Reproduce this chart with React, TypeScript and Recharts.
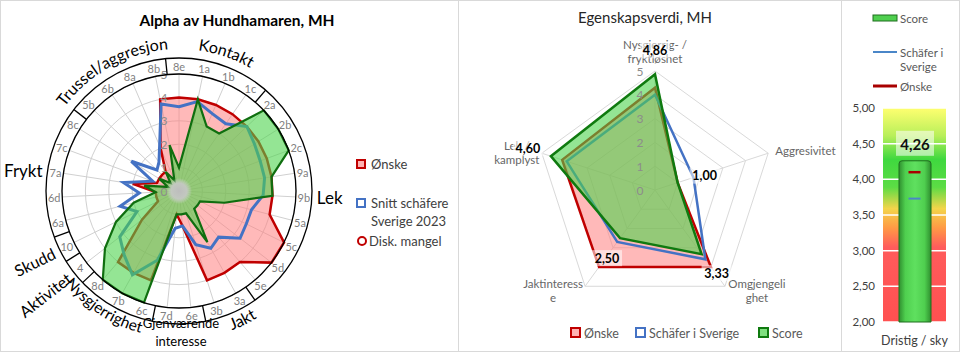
import React from 'react';
import {
  RadarChart, Radar, PolarGrid, PolarAngleAxis, PolarRadiusAxis,
  ComposedChart, Bar, Scatter, XAxis, YAxis, CartesianGrid, LabelList,
} from 'recharts';

// ---- left radar: MH items ----
const spokes = ['8e', '1a', '1b', '1c', '2a', '2b', '2c', '9a', '9b', '5a', '5c', '5d', '5e', '3a', '3b', '6e', '7d', '6c', '7b', '8d', '4', '10', '6a', '6d', '7a', '7c', '8c', '5b', '6b', '8a', '8b'];
const onskeByItem = [4, 4, 4, 4, 4, 4, 4, 4, 4, 4, 5, 5, 4, 4, 4, 1.5, 1, 4, 4, 4, 2, 1, 1, 1, 2, 1, 1, 1, 1, 2, 4];
const snittByItem = [3.6, 3.9, 3.6, 3.5, 4, 3.8, 3.7, 3.7, 3.6, 3.2, 3.2, 3.3, 2.6, 2.8, 2.4, 1.5, 1.6, 3.1, 4.1, 3.6, 3.2, 2, 2.6, 1.7, 2.4, 1.2, 2.4, 1.3, 1.5, 2.1, 3.8];
const scoreByItem = [1, 4, 3, 3, 5, 5, 5, 4, 4, 2, 1, 1, 1, 2.5, 1, 1, 1, 5, 5, 5, 4, 3, 2, 1, 1.5, 0.5, 1, 0.5, 1, 0.5, 2];
const groupLabels = ['Kontakt', 'Lek', 'Jakt', 'Gjenværende interesse', 'Nysgjerrighet', 'Aktivitet', 'Skudd', 'Frykt', 'Trussel/aggresjon'];
const groupSizes = [4, 9, 2, 2, 3, 1, 1, 5, 4];
const radiusTicks = [0, 1, 2, 3, 4, 5];

// ---- middle radar: egenskapsverdi ----
const traits = ['Nysgjerrig- / fryktløshet', 'Aggresivitet', 'Omgjengelighet', 'Jaktinteresse', 'Lek / kamplyst'];
const traitTickLines = [['Nysgjerrig- /', 'fryktløshet'], ['Aggresivitet'], ['Omgjengeli', 'ghet'], ['Jaktinteress', 'e'], ['Lek /', 'kamplyst']];
const traitOnske = [4.3, 1, 4, 4, 4.1];
const traitSchafer = [4, 1.7, 3.6, 2.7, 3.9];
const traitScore = [4.86, 1, 3.33, 2.5, 4.6];

// ---- right gauge ----
const gaugeCategory = ['Dristig / sky'];
const gaugeScore = [4.26];
const gaugeSchafer = [3.73];
const gaugeOnske = [4.1];
const gaugeTicks = [2, 2.5, 3, 3.5, 4, 4.5, 5];

const FONT = 'Lato, "Open Sans", "DejaVu Sans", sans-serif';
const RAD = Math.PI / 180;
const at = (cx: number, cy: number, r: number, cw: number) => ({ x: cx + r * Math.sin(cw * RAD), y: cy - r * Math.cos(cw * RAD) });
const fmt = (v: number) => v.toFixed(2).replace('.', ',');

const L = { cx: 179, cy: 191, r: 117, band: 133 };
const M = { left: 459, cx: 196, cy: 190, r: 119 };
const MX = M.left + M.cx;
const STEP = 360 / spokes.length;

const leftData = spokes.map((item, i) => ({ item, onske: onskeByItem[i], snitt: snittByItem[i], score: scoreByItem[i] }));
const midData = traits.map((t, i) => ({ trait: t, onske: traitOnske[i], schafer: traitSchafer[i], score: traitScore[i] }));
const gaugeData = gaugeCategory.map((name, i) => ({ name, score: gaugeScore[i], schafer: gaugeSchafer[i], onske: gaugeOnske[i] }));

let acc = 0;
const groups = groupLabels.map((name, g) => {
  const first = acc;
  acc += groupSizes[g];
  return { name, first, mid: ((first + acc - 1) / 2) * STEP };
});

const groupLabelStyle: any[] = [
  { mode: 'top', r: 142, shift: 1.5 },
  { mode: 'right', r: 138 },
  { mode: 'bottom', r: 149, shift: -3 },
  { mode: 'under', r: 132 },
  { mode: 'bottom', r: 147, shift: 4, size: 15.5 },
  { mode: 'radial', r: 139 },
  { mode: 'radial', r: 139 },
  { mode: 'left', r: 138 },
  { mode: 'top', r: 142 },
];

const scoreLabelOffset = [[0, -24], [27, -7], [15, 19], [-13, 20], [-23, -8]];
const traitTickOffset: any[] = [
  { dx: 0, dy: -27, anchor: 'middle' },
  { dx: 7, dy: -3, anchor: 'start' },
  { dx: 32, dy: -3, anchor: 'middle' },
  { dx: -32, dy: -3, anchor: 'middle' },
  { dx: -25, dy: -8, anchor: 'middle' },
];

const arcPath = (cx: number, cy: number, r: number, mid: number, bottom: boolean) => {
  const p1 = at(cx, cy, r, bottom ? mid + 70 : mid - 70);
  const p2 = at(cx, cy, r, bottom ? mid - 70 : mid + 70);
  return `M ${p1.x} ${p1.y} A ${r} ${r} 0 0 ${bottom ? 0 : 1} ${p2.x} ${p2.y}`;
};

const LeftItemTick = (props: any) => {
  const i = spokes.indexOf(props.payload.value);
  const p = at(L.cx, L.cy, 125, i * STEP);
  return <text x={p.x} y={p.y} textAnchor="middle" dominantBaseline="central" fontSize={11} fill="#7f7f7f" fontFamily={FONT}>{props.payload.value}</text>;
};

const RadiusTick = (props: any) => (
  <text x={props.x - 15} y={props.y} textAnchor="middle" dominantBaseline="central" fontSize={12} fill="#8c8c8c" fontFamily={FONT}>{props.payload.value}</text>
);

const TraitTick = (props: any) => {
  const i = traits.indexOf(props.payload.value);
  const v = at(MX, M.cy, M.r, i * 72);
  const o = traitTickOffset[i];
  return (
    <text textAnchor={o.anchor} fontSize={11.5} fill="#666" fontFamily={FONT} dominantBaseline="central">
      {traitTickLines[i].map((line, k) => (
        <tspan key={k} x={v.x - M.left + o.dx} y={v.y + o.dy + k * 14}>{line}</tspan>
      ))}
    </text>
  );
};

const GaugeTick = (props: any) => (
  <text x={props.x} y={props.y + 10} textAnchor="middle" dominantBaseline="central" fontSize={12.5} fill="#404040" fontFamily={FONT}>{props.payload.value}</text>
);

const Dash = (color: string, w: number) => (props: any) => (
  <line x1={props.cx - 6} x2={props.cx + 6} y1={props.cy} y2={props.cy} stroke={color} strokeWidth={w} />
);

const GaugeLabel = (props: any) => {
  const { x, y, width, value } = props;
  const c = x + width / 2;
  return (
    <g>
      <rect x={c - 19} y={y - 30} width={38} height={25} fill="#ffffff" fillOpacity={0.55} />
      <text x={c} y={y - 17} textAnchor="middle" dominantBaseline="central" fontWeight="bold" fontSize={15} fill="#111" fontFamily={FONT}>{fmt(value)}</text>
    </g>
  );
};

export default function App() {
  return (
    <div style={{ position: 'absolute', left: 0, top: 0, width: 960, height: 363, background: '#fff', fontFamily: FONT }}>
      {/* left radar */}
      <div style={{ position: 'absolute', left: 0, top: 0 }}>
        <RadarChart width={459} height={352} data={leftData} cx={L.cx} cy={L.cy} outerRadius={L.r} margin={{ top: 0, right: 0, bottom: 0, left: 0 }}>
          <PolarGrid gridType="circle" stroke="#d0d0d0" />
          <PolarAngleAxis dataKey="item" tick={<LeftItemTick />} tickLine={false} axisLine={false} />
          <PolarRadiusAxis angle={90} domain={[0, 5]} ticks={radiusTicks as any} tick={<RadiusTick />} axisLine={false} tickLine={false} />
          <Radar dataKey="onske" stroke="#c00000" strokeWidth={2.5} fill="#ff7f7f" fillOpacity={0.55} dot={false} isAnimationActive={false} />
          <Radar dataKey="snitt" stroke="#4472c4" strokeWidth={3} fill="none" fillOpacity={0} dot={false} isAnimationActive={false} />
          <Radar dataKey="score" stroke="#0f6e0f" strokeWidth={2.2} fill="#4cd44c" fillOpacity={0.6} dot={false} isAnimationActive={false} />
        </RadarChart>
      </div>

      {/* middle radar */}
      <div style={{ position: 'absolute', left: M.left, top: 0 }}>
        <RadarChart width={382} height={352} data={midData} cx={M.cx} cy={M.cy} outerRadius={M.r} margin={{ top: 0, right: 0, bottom: 0, left: 0 }}>
          <PolarGrid gridType="polygon" stroke="#d9d9d9" />
          <PolarAngleAxis dataKey="trait" tick={<TraitTick />} tickLine={false} axisLine={false} />
          <PolarRadiusAxis angle={90} domain={[0, 5]} ticks={radiusTicks as any} tick={<RadiusTick />} axisLine={false} tickLine={false} />
          <Radar dataKey="onske" stroke="#c00000" strokeWidth={2.5} fill="#ff7f7f" fillOpacity={0.55} dot={false} isAnimationActive={false} />
          <Radar dataKey="schafer" stroke="#4472c4" strokeWidth={2.5} fill="none" fillOpacity={0} dot={false} isAnimationActive={false} />
          <Radar dataKey="score" stroke="#0f7a0f" strokeWidth={2.5} fill="#4cd44c" fillOpacity={0.6} dot={false} isAnimationActive={false} />
        </RadarChart>
      </div>

      {/* right gauge */}
      <div style={{ position: 'absolute', left: 841, top: 0 }}>
        <ComposedChart width={119} height={352} data={gaugeData} margin={{ top: 108, right: 14, bottom: 6, left: 0 }}>
          <defs>
            <linearGradient id="gaugeBg" x1="0" y1="0" x2="0" y2="1">
              <stop offset="0" stopColor="#ffff70" />
              <stop offset="0.13" stopColor="#b8ef5a" />
              <stop offset="0.24" stopColor="#3fd83f" />
              <stop offset="0.37" stopColor="#5cdc45" />
              <stop offset="0.47" stopColor="#f3d54a" />
              <stop offset="0.56" stopColor="#ff9a45" />
              <stop offset="0.65" stopColor="#ff5c5c" />
              <stop offset="1" stopColor="#ff5050" />
            </linearGradient>
            <linearGradient id="gaugeBar" x1="0" y1="0" x2="1" y2="0">
              <stop offset="0" stopColor="#2f8f2f" />
              <stop offset="0.2" stopColor="#4fcf4f" />
              <stop offset="0.5" stopColor="#5fe05f" />
              <stop offset="0.8" stopColor="#4fcf4f" />
              <stop offset="1" stopColor="#2f8f2f" />
            </linearGradient>
          </defs>
          <CartesianGrid vertical={false} stroke="#ffffff" strokeWidth={1.5} fill="url(#gaugeBg)" fillOpacity={1} />
          <XAxis dataKey="name" type="category" axisLine={false} tickLine={false} height={24} tick={<GaugeTick />} interval={0} />
          <YAxis domain={[2, 5]} ticks={gaugeTicks} width={42} axisLine={false} tickLine={false} tickFormatter={fmt} tick={{ fontSize: 11.5, fill: '#404040', fontFamily: FONT }} />
          <Bar dataKey="score" barSize={32} fill="url(#gaugeBar)" stroke="#1f6e1f" strokeWidth={1} radius={[3, 3, 0, 0]} isAnimationActive={false}>
            <LabelList dataKey="score" content={<GaugeLabel />} />
          </Bar>
          <Scatter dataKey="onske" shape={Dash('#a80000', 2.5)} isAnimationActive={false} />
          <Scatter dataKey="schafer" shape={Dash('#4a86c8', 2)} isAnimationActive={false} />
        </ComposedChart>
      </div>

      {/* decorations, titles and legends */}
      <svg width={960} height={363} style={{ position: 'absolute', left: 0, top: 0, pointerEvents: 'none' }} fontFamily={FONT}>
        <defs>
          <radialGradient id="hub">
            <stop offset="0" stopColor="#bdbdbd" />
            <stop offset="0.6" stopColor="#c8c8c8" stopOpacity={0.9} />
            <stop offset="1" stopColor="#d8d8d8" stopOpacity={0} />
          </radialGradient>
          {groups.map((g, i) => {
            const s = groupLabelStyle[i];
            if (s.mode !== 'top' && s.mode !== 'bottom') return null;
            return <path key={i} id={`garc${i}`} d={arcPath(L.cx, L.cy, s.r, g.mid + (s.shift || 0), s.mode === 'bottom')} fill="none" />;
          })}
        </defs>

        <rect x={0.5} y={0.5} width={959} height={351} fill="none" stroke="#d9d9d9" />
        <line x1={458.5} x2={458.5} y1={0} y2={352} stroke="#d9d9d9" />
        <line x1={841.5} x2={841.5} y1={0} y2={352} stroke="#d9d9d9" />

        {/* left title */}
        <text x={237} y={20} textAnchor="middle" dominantBaseline="central" fontWeight="bold" fontSize={15.5} fill="#000">Alpha av Hundhamaren, MH</text>

        {/* ring around left radar */}
        <circle cx={L.cx} cy={L.cy} r={L.r} fill="none" stroke="#000" strokeWidth={1.3} />
        <circle cx={L.cx} cy={L.cy} r={L.band} fill="none" stroke="#000" strokeWidth={1.3} />
        {groups.map((g, i) => {
          const a = (g.first - 0.5) * STEP;
          const p1 = at(L.cx, L.cy, L.r, a);
          const p2 = at(L.cx, L.cy, L.band, a);
          return <line key={i} x1={p1.x} y1={p1.y} x2={p2.x} y2={p2.y} stroke="#000" strokeWidth={1.3} />;
        })}
        <circle cx={L.cx} cy={L.cy} r={13} fill="url(#hub)" />

        {groups.map((g, i) => {
          const s = groupLabelStyle[i];
          if (s.mode === 'top' || s.mode === 'bottom') {
            return (
              <text key={i} fontSize={s.size || 16} fill="#000">
                <textPath href={`#garc${i}`} startOffset="50%" textAnchor="middle">{g.name}</textPath>
              </text>
            );
          }
          const p = at(L.cx, L.cy, s.r, g.mid);
          if (s.mode === 'radial') {
            const rot = Math.atan2(Math.cos(g.mid * RAD), -Math.sin(g.mid * RAD)) / RAD;
            return <text key={i} x={p.x} y={p.y} textAnchor="end" dominantBaseline="central" fontSize={16} fill="#000" transform={`rotate(${rot} ${p.x} ${p.y})`}>{g.name}</text>;
          }
          if (s.mode === 'under') {
            return (
              <text key={i} textAnchor="middle" dominantBaseline="central" fontSize={13} fill="#000">
                {g.name.split(' ').map((w, k) => <tspan key={k} x={p.x + 2} y={L.cy + s.r + k * 18}>{w}</tspan>)}
              </text>
            );
          }
          return <text key={i} x={p.x} y={p.y} textAnchor={s.mode === 'left' ? 'end' : 'start'} dominantBaseline="central" fontSize={17} fill="#000">{g.name}</text>;
        })}

        {/* left legend */}
        <rect x={357} y={160} width={8} height={8} fill="#ffb3b3" stroke="#c00000" strokeWidth={2} />
        <text x={371} y={164} dominantBaseline="central" fontSize={13} fill="#404040">Ønske</text>
        <rect x={357} y={199} width={8} height={8} fill="#ffffff" stroke="#4472c4" strokeWidth={2} />
        <text x={371} y={203} dominantBaseline="central" fontSize={13} fill="#404040">Snitt schäfere</text>
        <text x={371} y={221} dominantBaseline="central" fontSize={13} fill="#404040">Sverige 2023</text>
        <circle cx={362} cy={241} r={4} fill="#ffffff" stroke="#c00000" strokeWidth={2} />
        <text x={369} y={241} dominantBaseline="central" fontSize={13} fill="#404040">Disk. mangel</text>

        {/* middle title, value labels, legend */}
        <text x={645} y={17} textAnchor="middle" dominantBaseline="central" fontSize={15} fill="#262626">Egenskapsverdi, MH</text>
        {traitScore.map((v, i) => {
          const p = at(MX, M.cy, (v / 5) * M.r, i * 72);
          const x = p.x + scoreLabelOffset[i][0];
          const y = p.y + scoreLabelOffset[i][1];
          return (
            <g key={i}>
              <rect x={x - 15} y={y - 8} width={30} height={16} fill="#ffffff" fillOpacity={0.55} />
              <text x={x} y={y} textAnchor="middle" dominantBaseline="central" fontWeight="bold" fontSize={12.5} fill="#000">{fmt(v)}</text>
            </g>
          );
        })}
        <rect x={571} y={328} width={9} height={9} fill="#ffb3b3" stroke="#c00000" strokeWidth={2} />
        <text x={584} y={333} dominantBaseline="central" fontSize={12.5} fill="#595959">Ønske</text>
        <rect x={636} y={328} width={9} height={9} fill="#ffffff" stroke="#4472c4" strokeWidth={2} />
        <text x={649} y={333} dominantBaseline="central" fontSize={12.5} fill="#595959">Schäfer i Sverige</text>
        <rect x={759} y={328} width={9} height={9} fill="#7fe07f" stroke="#0f7a0f" strokeWidth={2} />
        <text x={772} y={333} dominantBaseline="central" fontSize={12.5} fill="#595959">Score</text>

        {/* right legend */}
        <rect x={873} y={15} width={24} height={6} fill="#4fcf4f" stroke="#1f6e1f" strokeWidth={1} />
        <text x={900} y={18} dominantBaseline="central" fontSize={11.5} fill="#595959">Score</text>
        <line x1={873} x2={897} y1={52} y2={52} stroke="#4a86c8" strokeWidth={2} />
        <text x={900} y={52} dominantBaseline="central" fontSize={11.5} fill="#595959">Schäfer i</text>
        <text x={900} y={66} dominantBaseline="central" fontSize={11.5} fill="#595959">Sverige</text>
        <line x1={873} x2={897} y1={86} y2={86} stroke="#a80000" strokeWidth={3} />
        <text x={900} y={86} dominantBaseline="central" fontSize={11.5} fill="#595959">Ønske</text>
      </svg>
    </div>
  );
}
